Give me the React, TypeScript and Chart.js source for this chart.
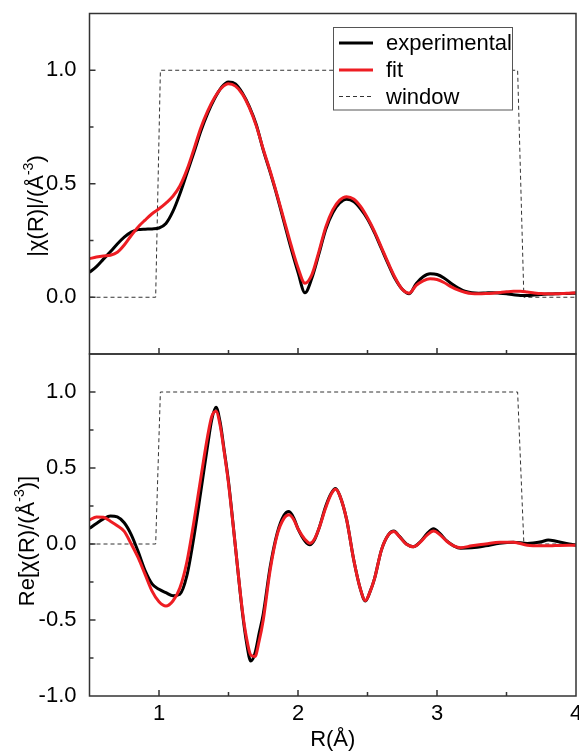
import React, { useEffect, useRef } from "react";
import { Chart, registerables } from "chart.js";

Chart.register(...registerables);

const FONT = "'Liberation Sans', Arial, Helvetica, sans-serif";
const BLACK = "#000000";
const RED = "#ee1d23";
const FRAME = "#333333";
const WINDOW_COLOR = "#333333";

// ---------- Top panel: |chi(R)| ----------
const R_TOP = [
  0.5, 0.55, 0.6, 0.65, 0.7, 0.75, 0.8, 0.85, 0.9, 0.95,
  1.0, 1.05, 1.1, 1.15, 1.2, 1.25, 1.3, 1.35, 1.4, 1.45,
  1.5, 1.55, 1.6, 1.65, 1.7, 1.75, 1.8, 1.85, 1.9, 1.95,
  2.0, 2.05, 2.1, 2.15, 2.2, 2.25, 2.3, 2.35, 2.4, 2.45,
  2.5, 2.55, 2.6, 2.65, 2.7, 2.75, 2.8, 2.85, 2.9, 2.95,
  3.0, 3.05, 3.1, 3.15, 3.2, 3.25, 3.3, 3.35, 3.4, 3.45,
  3.5, 3.55, 3.6, 3.65, 3.7, 3.75, 3.8, 3.85, 3.9, 3.95, 4.0,
];
const EXP_MAG = [
  0.11, 0.135, 0.168, 0.2, 0.235, 0.265, 0.287, 0.298, 0.3, 0.301,
  0.305, 0.325, 0.378, 0.455, 0.545, 0.635, 0.73, 0.81, 0.875, 0.925,
  0.948, 0.94, 0.9, 0.84, 0.76, 0.648, 0.55, 0.445, 0.33, 0.215,
  0.11, 0.02, 0.085, 0.19, 0.3, 0.372, 0.415, 0.432, 0.422, 0.39,
  0.345, 0.285, 0.215, 0.145, 0.08, 0.035, 0.015, 0.06, 0.09, 0.103,
  0.1, 0.085, 0.062, 0.042, 0.027, 0.02, 0.018, 0.019, 0.02, 0.018,
  0.015, 0.011, 0.008, 0.008, 0.01, 0.012, 0.014, 0.015, 0.016, 0.017, 0.018,
];
const FIT_MAG = [
  0.17, 0.177, 0.182, 0.185, 0.198, 0.23, 0.272, 0.31, 0.34, 0.368,
  0.39, 0.415, 0.445, 0.49, 0.56, 0.65, 0.745, 0.82, 0.88, 0.922,
  0.94, 0.93, 0.895, 0.835, 0.755, 0.652, 0.555, 0.45, 0.34, 0.23,
  0.13, 0.062, 0.1, 0.2, 0.31, 0.385, 0.428, 0.443, 0.433, 0.4,
  0.35, 0.29, 0.22, 0.15, 0.085, 0.035, 0.018, 0.052, 0.072, 0.081,
  0.078, 0.065, 0.047, 0.032, 0.022, 0.016, 0.015, 0.016, 0.018, 0.021,
  0.024, 0.026, 0.026, 0.023, 0.019, 0.016, 0.015, 0.015, 0.016, 0.018, 0.02,
];

// ---------- Bottom panel: Re[chi(R)] ----------
const R_BOT = [
  0.5, 0.55, 0.6, 0.65, 0.7, 0.75, 0.8, 0.85, 0.9, 0.95,
  1.0, 1.05, 1.1, 1.15, 1.2, 1.25, 1.3, 1.35, 1.38, 1.41,
  1.44, 1.47, 1.5, 1.55, 1.6, 1.63, 1.66, 1.69, 1.72, 1.75,
  1.8, 1.85, 1.9, 1.935, 1.97, 2.0, 2.05, 2.085, 2.12, 2.15,
  2.2, 2.24, 2.27, 2.3, 2.35, 2.4, 2.45, 2.485, 2.52, 2.55,
  2.6, 2.65, 2.69, 2.73, 2.78, 2.83, 2.88, 2.93, 2.975, 3.02,
  3.07, 3.12, 3.17, 3.25, 3.35, 3.45, 3.55, 3.65, 3.75, 3.8,
  3.85, 3.95, 4.0,
];
const EXP_RE = [
  0.103, 0.135, 0.165, 0.185, 0.178, 0.14, 0.062, -0.05, -0.175, -0.262,
  -0.298, -0.32, -0.34, -0.33, -0.21, 0.04, 0.34, 0.65, 0.82, 0.9,
  0.8, 0.61, 0.41, -0.02, -0.45, -0.65, -0.77, -0.72, -0.59, -0.46,
  -0.15, 0.07, 0.19, 0.213, 0.17, 0.1, 0.02, -0.005, 0.03, 0.1,
  0.25, 0.335, 0.365, 0.32, 0.16, -0.1, -0.3, -0.375, -0.31, -0.23,
  -0.04, 0.06, 0.085, 0.05, 0.0, -0.018, 0.015, 0.07, 0.1, 0.07,
  0.02, -0.012, -0.028, -0.025, -0.012, 0.005, 0.012, 0.004, 0.015, 0.026,
  0.02, 0.0, -0.008,
];
const FIT_RE = [
  0.158, 0.178, 0.176, 0.15, 0.12, 0.083, 0.0, -0.09, -0.2, -0.31,
  -0.38, -0.408, -0.375, -0.29, -0.12, 0.14, 0.43, 0.71, 0.84, 0.873,
  0.78, 0.6, 0.4, -0.02, -0.44, -0.62, -0.73, -0.74, -0.64, -0.5,
  -0.17, 0.06, 0.17, 0.192, 0.16, 0.1, 0.03, 0.005, 0.035, 0.1,
  0.24, 0.33, 0.36, 0.32, 0.16, -0.1, -0.3, -0.372, -0.31, -0.23,
  -0.04, 0.06, 0.082, 0.048, -0.002, -0.018, 0.012, 0.06, 0.085, 0.062,
  0.018, -0.012, -0.024, -0.012, 0.0, 0.012, 0.012, -0.008, -0.012, -0.012,
  -0.01, -0.008, -0.008,
];

// ---------- Window function ----------
const WINDOW_R = [0.5, 0.976, 1.01, 3.58, 3.625, 4.0];
const WINDOW_V = [0, 0, 1, 1, 0, 0];

// ---------- Axes ----------
const X_MIN = 0.5;
const X_MAX = 4.0;
const X_STEP = 0.5;
const TOP_Y_MIN = -0.25;
const TOP_Y_MAX = 1.25;
const BOT_Y_MIN = -1.0;
const BOT_Y_MAX = 1.25;
const Y_STEP = 0.25;
const LEGEND_LABELS = ["experimental", "fit", "window"];
const X_TITLE = "R(Å)";
const TOP_Y_TITLE = [{ t: "|χ(R)|/(Å" }, { t: "-3", sup: true }, { t: ")" }];
const BOT_Y_TITLE = [{ t: "Re[χ(R)/(Å" }, { t: "-3", sup: true }, { t: ")]" }];

const pts = (xs: number[], ys: number[]) => xs.map((x, i) => ({ x, y: ys[i] }));

function drawRotatedTitle(ctx: CanvasRenderingContext2D, cx: number, cy: number, parts: any[]) {
  ctx.save();
  ctx.translate(cx, cy);
  ctx.rotate(-Math.PI / 2);
  const mainFont = `22px ${FONT}`;
  const supFont = `14px ${FONT}`;
  let total = 0;
  const widths = parts.map((p) => {
    ctx.font = p.sup ? supFont : mainFont;
    const w = ctx.measureText(p.t).width;
    total += w;
    return w;
  });
  let x = -total / 2;
  ctx.textBaseline = "middle";
  ctx.textAlign = "left";
  ctx.fillStyle = "#000";
  parts.forEach((p, i) => {
    ctx.font = p.sup ? supFont : mainFont;
    ctx.fillText(p.t, x, p.sup ? -8 : 0);
    x += widths[i];
  });
  ctx.restore();
}

const framePlugin = {
  id: "frameTicks",
  afterDraw(chart: any, _args: any, opts: any) {
    const { ctx, chartArea: a } = chart;
    const xs = chart.scales.x;
    const ys = chart.scales.y;
    ctx.save();
    ctx.strokeStyle = FRAME;
    ctx.lineWidth = 1.5;
    ctx.beginPath();
    xs.ticks.forEach((t: any) => {
      if (t.value <= xs.min + 1e-9 || t.value >= xs.max - 1e-9) return;
      const px = xs.getPixelForValue(t.value);
      const len = Math.abs(t.value - Math.round(t.value)) < 1e-6 ? 6 : 4;
      ctx.moveTo(px, a.bottom);
      ctx.lineTo(px, a.bottom - len);
    });
    ys.ticks.forEach((t: any) => {
      if (t.value <= ys.min + 1e-9 || t.value >= ys.max - 1e-9) return;
      const py = ys.getPixelForValue(t.value);
      const major = Math.abs(t.value * 2 - Math.round(t.value * 2)) < 1e-6;
      ctx.moveTo(a.left, py);
      ctx.lineTo(a.left + (major ? 6 : 4), py);
    });
    ctx.stroke();
    ctx.strokeRect(a.left, a.top, a.right - a.left, a.bottom - a.top);
    ctx.restore();

    if (opts && opts.title) drawRotatedTitle(ctx, opts.titleX, opts.titleY, opts.title);

    if (opts && opts.legend) {
      const L = opts.legend;
      ctx.save();
      ctx.fillStyle = "#ffffff";
      ctx.fillRect(L.x, L.y, L.w, L.h);
      ctx.strokeStyle = "#555555";
      ctx.lineWidth = 1;
      ctx.strokeRect(L.x, L.y, L.w, L.h);
      const ds = chart.data.datasets;
      LEGEND_LABELS.forEach((lab, i) => {
        const d = ds.find((q: any) => q.label === lab);
        const y = L.rowY[i];
        ctx.beginPath();
        ctx.strokeStyle = d.borderColor;
        ctx.lineWidth = d.borderWidth;
        ctx.setLineDash(d.borderDash || []);
        ctx.moveTo(L.lineX0, y);
        ctx.lineTo(L.lineX1, y);
        ctx.stroke();
        ctx.setLineDash([]);
        ctx.fillStyle = "#000";
        ctx.font = `22px ${FONT}`;
        ctx.textBaseline = "middle";
        ctx.textAlign = "left";
        ctx.fillText(lab, L.textX, y + 1);
      });
      ctx.restore();
    }
  },
};

function buildConfig(kind: "top" | "bot", canvasH: number): any {
  const isTop = kind === "top";
  const rs = isTop ? R_TOP : R_BOT;
  const exp = isTop ? EXP_MAG : EXP_RE;
  const fit = isTop ? FIT_MAG : FIT_RE;
  const areaTopInCanvas = isTop ? 13.5 : 2;
  const areaBottomInCanvas = isTop ? 354 : 344;
  const xAxisH = canvasH - areaBottomInCanvas;
  return {
    type: "line",
    data: {
      datasets: [
        {
          label: "experimental",
          data: pts(rs, exp),
          borderColor: BLACK,
          borderWidth: 3,
          pointRadius: 0,
          cubicInterpolationMode: "monotone",
          order: 2,
        },
        {
          label: "fit",
          data: pts(rs, fit),
          borderColor: RED,
          borderWidth: 3,
          pointRadius: 0,
          cubicInterpolationMode: "monotone",
          order: 1,
        },
        {
          label: "window",
          data: pts(WINDOW_R, WINDOW_V),
          borderColor: WINDOW_COLOR,
          borderWidth: 1,
          borderDash: [4, 3],
          pointRadius: 0,
          tension: 0,
          order: 3,
        },
      ],
    },
    options: {
      responsive: false,
      maintainAspectRatio: false,
      animation: false,
      devicePixelRatio: 1,
      events: [],
      layout: { padding: { top: areaTopInCanvas, right: 3, left: 0, bottom: 0 } },
      plugins: {
        legend: { display: false },
        tooltip: { enabled: false },
        frameTicks: isTop
          ? {
              title: TOP_Y_TITLE,
              titleX: 37,
              titleY: 206,
              legend: {
                x: 333.5,
                y: 27.5,
                w: 179,
                h: 82.5,
                rowY: [43, 70, 96.5],
                lineX0: 339,
                lineX1: 373,
                textX: 386,
              },
            }
          : { title: BOT_Y_TITLE, titleX: 28, titleY: 541 - 352 },
      },
      scales: {
        x: {
          type: "linear",
          min: X_MIN,
          max: X_MAX,
          grid: { display: false },
          border: { display: false },
          ticks: {
            display: !isTop,
            stepSize: X_STEP,
            padding: -3,
            color: "#000",
            font: { size: 22, family: FONT },
            maxRotation: 0,
            autoSkip: false,
            callback: (v: number) => (Math.abs(v - Math.round(v)) < 1e-6 ? String(Math.round(v)) : ""),
          },
          title: {
            display: !isTop,
            text: X_TITLE,
            color: "#000",
            font: { size: 22, family: FONT },
            padding: { top: 0, bottom: 0 },
          },
          afterFit: (s: any) => {
            s.height = xAxisH;
            s.paddingLeft = 0;
            s.paddingRight = 0;
          },
        },
        y: {
          type: "linear",
          min: isTop ? TOP_Y_MIN : BOT_Y_MIN,
          max: isTop ? TOP_Y_MAX : BOT_Y_MAX,
          grid: { display: false },
          border: { display: false },
          ticks: {
            stepSize: Y_STEP,
            padding: 5,
            color: "#000",
            font: { size: 22, family: FONT },
            autoSkip: false,
            callback: (v: number) =>
              Math.abs(v * 2 - Math.round(v * 2)) < 1e-6 ? (Math.round(v * 2) / 2).toFixed(1) : "",
          },
          afterFit: (s: any) => {
            s.width = 89.5;
            s.paddingTop = 0;
            s.paddingBottom = 0;
          },
        },
      },
    },
    plugins: [framePlugin],
  };
}

const TOP_H = 357;
const BOT_TOP = 352;
const BOT_H = 753 - 352;

export default function App() {
  const topRef = useRef<HTMLCanvasElement>(null);
  const botRef = useRef<HTMLCanvasElement>(null);

  useEffect(() => {
    Chart.defaults.font.family = FONT;
    const c1 = new Chart(topRef.current as HTMLCanvasElement, buildConfig("top", TOP_H));
    const c2 = new Chart(botRef.current as HTMLCanvasElement, buildConfig("bot", BOT_H));
    return () => {
      c1.destroy();
      c2.destroy();
    };
  }, []);

  return (
    <div style={{ position: "absolute", left: 0, top: 0, width: 579, height: 753, background: "#fff" }}>
      <canvas
        ref={topRef}
        width={579}
        height={TOP_H}
        style={{ position: "absolute", left: 0, top: 0, width: 579, height: TOP_H }}
      />
      <canvas
        ref={botRef}
        width={579}
        height={BOT_H}
        style={{ position: "absolute", left: 0, top: BOT_TOP, width: 579, height: BOT_H }}
      />
    </div>
  );
}
